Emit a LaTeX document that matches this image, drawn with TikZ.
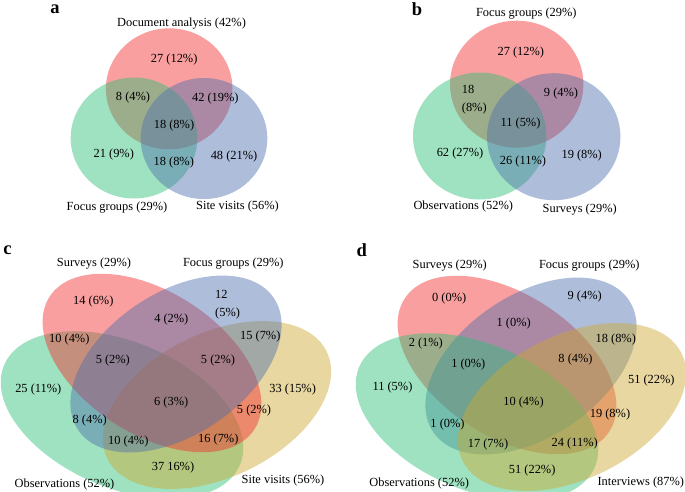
\documentclass[tikz,border=0pt]{standalone}
\usepackage{fontspec}
\setmainfont{Liberation Serif}
\definecolor{vred}{RGB}{242,44,44}
\definecolor{vgreen}{RGB}{44,191,119}
\definecolor{vblue}{RGB}{77,111,173}
\definecolor{vyellow}{RGB}{204,168,48}
\begin{document}
\begin{tikzpicture}[x=1pt,y=-1pt,
  lbl/.style={font=\fontsize{12.4}{16}\selectfont, inner sep=0pt, text=black},
  lbl2/.style={font=\fontsize{12.4}{17.6}\selectfont, inner sep=0pt, text=black, align=left, anchor=west},
  panel/.style={font=\fontsize{18.5}{22}\selectfont\bfseries, inner sep=0pt, text=black},
  setfill/.style={fill=#1, fill opacity=0.45}]
\useasboundingbox (0,0) rectangle (685,491);
\fill[white] (0,0) rectangle (685,491);

% ---------------- panel a ----------------
\fill[setfill=vred]   (169.2,88.8) ellipse [x radius=63.3, y radius=60.5];
\fill[setfill=vgreen] (134,138)    ellipse [x radius=63.3, y radius=60.5];
\fill[setfill=vblue]  (204,138.5)  ellipse [x radius=63.3, y radius=60.5];
\node[panel] (pa) at (55,9.5) {a};
\node[lbl] (a-doc) at (181.5,23.3) {Document analysis (42\%)};
\node[lbl] (a-r)   at (174.2,60)   {27 (12\%)};
\node[lbl] (a-rg)  at (133,97.7)   {8 (4\%)};
\node[lbl] (a-rb)  at (215.3,99)   {42 (19\%)};
\node[lbl] (a-rgb) at (174,126)    {18 (8\%)};
\node[lbl] (a-g)   at (113.8,155)  {21 (9\%)};
\node[lbl] (a-gb)  at (173.8,162.7){18 (8\%)};
\node[lbl] (a-b)   at (234,156.7)  {48 (21\%)};
\node[lbl] (a-fg)  at (117,207.3)  {Focus groups (29\%)};
\node[lbl] (a-sv)  at (237.5,206.7){Site visits (56\%)};

% ---------------- panel b ----------------
\fill[setfill=vred]   (516.7,84.2) ellipse [x radius=66.7, y radius=63.5];
\fill[setfill=vgreen] (479.7,136)  ellipse [x radius=66.7, y radius=63.5];
\fill[setfill=vblue]  (553.7,136.7)ellipse [x radius=66.7, y radius=63.5];
\node[panel] (pb) at (417,9.5) {b};
\node[lbl] (b-fg)  at (526.3,13.3) {Focus groups (29\%)};
\node[lbl] (b-r)   at (520.8,52.7) {27 (12\%)};
\node[lbl2] (b-rg) at (461.7,99.5) {18\\(8\%)};
\node[lbl] (b-rb)  at (561,93.3)   {9 (4\%)};
\node[lbl] (b-rgb) at (520.5,123.3){11 (5\%)};
\node[lbl] (b-g)   at (460,154)    {62 (27\%)};
\node[lbl] (b-gb)  at (523,161.7)  {26 (11\%)};
\node[lbl] (b-b)   at (581.7,155.7){19 (8\%)};
\node[lbl] (b-ob)  at (463.3,206.7){Observations (52\%)};
\node[lbl] (b-sv)  at (579.7,209.3){Surveys (29\%)};

% ---------------- panel c ----------------
\fill[setfill=vgreen, rotate around={-23:(122,415)}] (122,415) ellipse [x radius=128, y radius=73];
\fill[setfill=vyellow, rotate around={26:(217,405)}] (217,405) ellipse [x radius=122, y radius=72];
\fill[setfill=vred, rotate around={-33:(152,363)}] (152,363) ellipse [x radius=122, y radius=71];
\fill[setfill=vblue, rotate around={34:(176,364)}] (176,364) ellipse [x radius=118, y radius=71];
\node[panel] (pc) at (7.5,250.5) {c};
\node[lbl] (c-sv)  at (94,263.3)   {Surveys (29\%)};
\node[lbl] (c-fg)  at (233.3,263.3){Focus groups (29\%)};
\node[lbl] (c-r)   at (93.3,301.7) {14 (6\%)};
\node[lbl2] (c-b)  at (215,304.7)  {12\\(5\%)};
\node[lbl] (c-rb)  at (171.3,320)  {4 (2\%)};
\node[lbl] (c-gr)  at (69.3,340)   {10 (4\%)};
\node[lbl] (c-by)  at (260.3,336.7){15 (7\%)};
\node[lbl] (c-grb) at (112.8,361)  {5 (2\%)};
\node[lbl] (c-rby) at (218,361)    {5 (2\%)};
\node[lbl] (c-g)   at (38.3,389.3) {25 (11\%)};
\node[lbl] (c-y)   at (292.7,389.3){33 (15\%)};
\node[lbl] (c-all) at (171.2,402.7){6 (3\%)};
\node[lbl] (c-ry)  at (254,411)    {5 (2\%)};
\node[lbl] (c-gb)  at (89.7,420.7) {8 (4\%)};
\node[lbl] (c-gby) at (128.3,441.7){10 (4\%)};
\node[lbl] (c-gry) at (218.3,439.3){16 (7\%)};
\node[lbl] (c-gy)  at (173,467.3)  {37 16\%)};
\node[lbl] (c-ob)  at (64.5,485)   {Observations (52\%)};
\node[lbl] (c-si)  at (283,480.7)  {Site visits (56\%)};

% ---------------- panel d ----------------
\begin{scope}[shift={(355,2)}]
\fill[setfill=vred, rotate around={-33:(152,363)}] (152,363) ellipse [x radius=122, y radius=71];
\fill[setfill=vblue, rotate around={34:(176,364)}] (176,364) ellipse [x radius=118, y radius=71];
\fill[setfill=vgreen, rotate around={-23:(122,415)}] (122,415) ellipse [x radius=128, y radius=73];
\fill[setfill=vyellow, rotate around={26:(217,405)}] (217,405) ellipse [x radius=122, y radius=72];
\end{scope}
\node[panel] (pd) at (361.7,250) {d};
\node[lbl] (d-sv)  at (449.7,265.7){Surveys (29\%)};
\node[lbl] (d-fg)  at (589.3,265.7){Focus groups (29\%)};
\node[lbl] (d-r)   at (449.2,298.3){0 (0\%)};
\node[lbl] (d-b)   at (584.7,296.7){9 (4\%)};
\node[lbl] (d-rb)  at (513.7,323.3){1 (0\%)};
\node[lbl] (d-gr)  at (425.8,344)  {2 (1\%)};
\node[lbl] (d-by)  at (615.8,339.3){18 (8\%)};
\node[lbl] (d-grb) at (468.3,364.3){1 (0\%)};
\node[lbl] (d-rby) at (575.5,359.3){8 (4\%)};
\node[lbl] (d-g)   at (392.5,387.3){11 (5\%)};
\node[lbl] (d-y)   at (651.3,380.7){51 (22\%)};
\node[lbl] (d-all) at (523.5,402.3){10 (4\%)};
\node[lbl] (d-ry)  at (610,415)    {19 (8\%)};
\node[lbl] (d-gb)  at (447.5,425)  {1 (0\%)};
\node[lbl] (d-gby) at (488,444.3)  {17 (7\%)};
\node[lbl] (d-gry) at (574.7,443.3){24 (11\%)};
\node[lbl] (d-gy)  at (532.2,470.7){51 (22\%)};
\node[lbl] (d-ob)  at (419.2,484)  {Observations (52\%)};
\node[lbl] (d-in)  at (640.8,482.3){Interviews (87\%)};
\end{tikzpicture}
\end{document}
